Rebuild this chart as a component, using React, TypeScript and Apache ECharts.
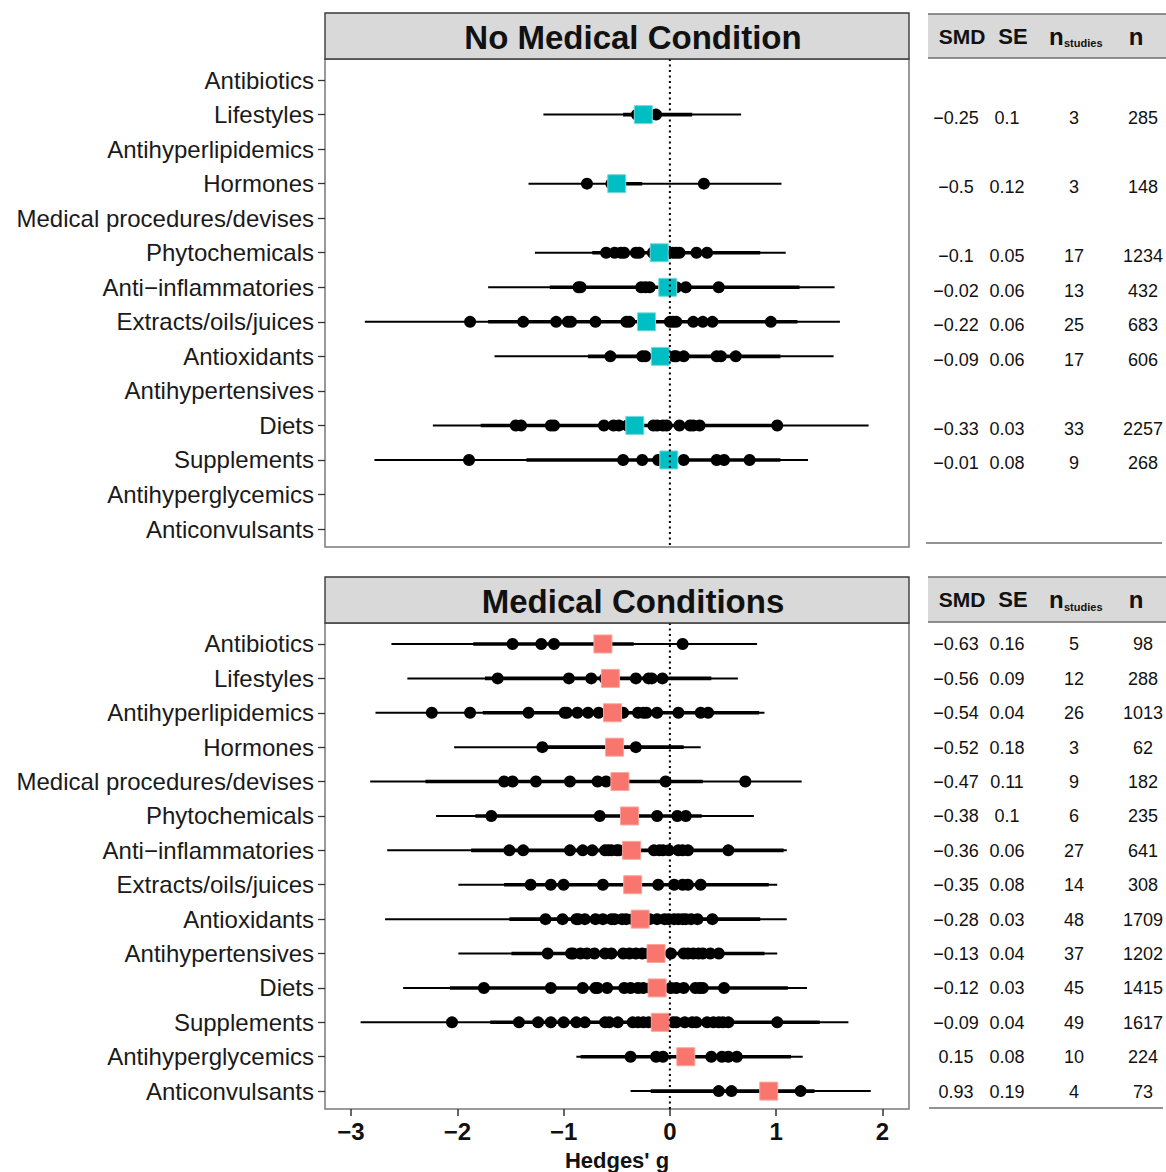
import React, { useEffect, useRef } from "react";
import * as echarts from "echarts";

const FONT = "Liberation Sans, Arial, Helvetica, sans-serif";

const categories = [
  "Antibiotics",
  "Lifestyles",
  "Antihyperlipidemics",
  "Hormones",
  "Medical procedures/devises",
  "Phytochemicals",
  "Anti\u2212inflammatories",
  "Extracts/oils/juices",
  "Antioxidants",
  "Antihypertensives",
  "Diets",
  "Supplements",
  "Antihyperglycemics",
  "Anticonvulsants",
];

const xTicks = [-3, -2, -1, 0, 1, 2];

// ---- No Medical Condition ----
const noMedSMD = [null, -0.25, null, -0.5, null, -0.1, -0.02, -0.22, -0.09, null, -0.33, -0.01, null, null];
const noMedSE = [null, 0.1, null, 0.12, null, 0.05, 0.06, 0.06, 0.06, null, 0.03, 0.08, null, null];
const noMedNStudies = [null, 3, null, 3, null, 17, 13, 25, 17, null, 33, 9, null, null];
const noMedN = [null, 285, null, 148, null, 1234, 432, 683, 606, null, 2257, 268, null, null];
const noMedStudies: number[][] = [
  [],
  [-0.31, -0.27, -0.13],
  [],
  [-0.78, -0.55, 0.32],
  [],
  [-0.6, -0.52, -0.46, -0.43, -0.32, -0.29, -0.16, -0.12, -0.06, 0.03, 0.06, 0.09, 0.25, 0.35],
  [-0.86, -0.84, -0.27, -0.23, -0.19, -0.05, 0.04, 0.06, 0.15, 0.46],
  [-1.88, -1.38, -1.07, -0.96, -0.93, -0.7, -0.41, -0.38, -0.25, 0.0, 0.03, 0.06, 0.22, 0.31, 0.4, 0.95],
  [-0.56, -0.26, -0.23, -0.12, 0.04, 0.06, 0.13, 0.44, 0.48, 0.62],
  [],
  [-1.45, -1.4, -1.12, -1.09, -0.62, -0.53, -0.48, -0.4, -0.155, -0.12, -0.065, -0.03, 0.09, 0.19, 0.22, 0.28, 1.01],
  [-1.89, -0.44, -0.26, -0.11, 0.13, 0.44, 0.51, 0.75],
  [],
  [],
];
const noMedOuterCI: ([number, number] | null)[] = [
  null, [-1.19, 0.67], null, [-1.33, 1.05], null, [-1.27, 1.09], [-1.71, 1.55],
  [-2.87, 1.6], [-1.65, 1.54], null, [-2.23, 1.87], [-2.78, 1.3], null, null,
];
const noMedInnerCI: ([number, number] | null)[] = [
  null, [-0.44, 0.21], null, [-0.59, -0.26], null, [-0.73, 0.85], [-1.13, 1.22],
  [-1.71, 1.2], [-0.77, 1.04], null, [-1.78, 1.0], [-1.35, 1.04], null, null,
];

// ---- Medical Conditions ----
const medSMD = [-0.63, -0.56, -0.54, -0.52, -0.47, -0.38, -0.36, -0.35, -0.28, -0.13, -0.12, -0.09, 0.15, 0.93];
const medSE = [0.16, 0.09, 0.04, 0.18, 0.11, 0.1, 0.06, 0.08, 0.03, 0.04, 0.03, 0.04, 0.08, 0.19];
const medNStudies = [5, 12, 26, 3, 9, 6, 27, 14, 48, 37, 45, 49, 10, 4];
const medN = [98, 288, 1013, 62, 182, 235, 641, 308, 1709, 1202, 1415, 1617, 224, 73];
const medStudies: number[][] = [
  [-1.48, -1.21, -1.09, -0.66, 0.12],
  [-1.62, -0.95, -0.74, -0.61, -0.32, -0.2, -0.17, -0.07],
  [-2.24, -1.88, -1.33, -0.99, -0.97, -0.87, -0.77, -0.67, -0.51, -0.44, -0.3, -0.25, -0.22, -0.12, 0.08, 0.29, 0.36],
  [-1.2, -0.55, -0.32],
  [-1.56, -1.48, -1.26, -0.94, -0.68, -0.6, -0.04, 0.71],
  [-1.68, -0.66, -0.4, -0.12, 0.07, 0.15],
  [-1.51, -1.38, -0.94, -0.82, -0.73, -0.61, -0.58, -0.55, -0.5, -0.48, -0.42, -0.15, -0.1, -0.065, -0.01, 0.08, 0.12, 0.17, 0.55],
  [-1.31, -1.12, -1.0, -0.63, -0.11, 0.04, 0.12, 0.17, 0.29],
  [-1.17, -1.01, -0.88, -0.86, -0.8, -0.7, -0.63, -0.55, -0.52, -0.45, -0.41, -0.35, -0.3, -0.19, -0.12, -0.05, -0.01, 0.04, 0.08, 0.12, 0.15, 0.2, 0.26, 0.4],
  [-1.15, -0.93, -0.91, -0.84, -0.78, -0.71, -0.61, -0.55, -0.44, -0.38, -0.32, -0.26, -0.2, 0.01, 0.13, 0.17, 0.22, 0.27, 0.31, 0.38, 0.46],
  [-1.75, -1.12, -0.82, -0.7, -0.68, -0.59, -0.43, -0.37, -0.3, -0.25, -0.18, 0.01, 0.06, 0.13, 0.24, 0.28, 0.31, 0.51],
  [-2.05, -1.42, -1.24, -1.12, -1.0, -0.88, -0.8, -0.61, -0.57, -0.49, -0.35, -0.3, -0.25, -0.2, 0.03, 0.06, 0.14, 0.21, 0.25, 0.35, 0.41, 0.46, 0.5, 0.55, 1.01],
  [-0.37, -0.13, -0.065, 0.39, 0.49, 0.55, 0.63],
  [0.46, 0.58, 1.23],
];
const medOuterCI: ([number, number] | null)[] = [
  [-2.62, 0.82], [-2.47, 0.64], [-2.77, 0.89], [-2.03, 0.29], [-2.82, 1.24], [-2.2, 0.79], [-2.66, 1.1],
  [-1.99, 1.01], [-2.68, 1.1], [-1.99, 1.01], [-2.51, 1.29], [-2.91, 1.68], [-0.88, 1.25], [-0.37, 1.89],
];
const medInnerCI: ([number, number] | null)[] = [
  [-1.85, -0.34], [-1.74, 0.39], [-1.76, 0.84], [-1.24, 0.13], [-2.3, 0.31], [-1.83, 0.3], [-1.87, 1.07],
  [-1.56, 0.93], [-1.51, 0.85], [-1.49, 0.89], [-2.07, 1.11], [-1.69, 1.41], [-0.84, 1.14], [-0.18, 1.36],
];

const X_MIN = -3.245;
const X_MAX = 2.25;
const Y_MIN = 0.39;
const Y_MAX = 14.52;

const fmt = (v: number) => String(v).replace("-", "\u2212");

function ciRender(width: number) {
  return (params: any, api: any) => {
    const p1 = api.coord([api.value(0), api.value(2)]);
    const p2 = api.coord([api.value(1), api.value(2)]);
    return {
      type: "line",
      shape: { x1: p1[0], y1: p1[1], x2: p2[0], y2: p2[1] },
      style: { stroke: "#000", lineWidth: width },
    };
  };
}

function zeroRender(params: any, api: any) {
  const x = api.coord([api.value(0), api.value(1)])[0];
  const cs = params.coordSys;
  return {
    type: "line",
    shape: { x1: x, y1: cs.y, x2: x, y2: cs.y + cs.height },
    style: { stroke: "#000", lineWidth: 2, lineDash: [2, 3.5] },
  };
}

function panelSeries(
  gi: number,
  smd: (number | null)[],
  studies: number[][],
  outer: ([number, number] | null)[],
  inner: ([number, number] | null)[],
  color: string,
  border: string
) {
  const toSeg = (arr: ([number, number] | null)[]) =>
    arr
      .map((r, i) => (r ? [r[0], r[1], i + 1] : null))
      .filter((d) => d !== null);
  const pts: number[][] = [];
  studies.forEach((list, i) => list.forEach((v) => pts.push([v, i + 1])));
  const summary = smd
    .map((v, i) => (v === null ? null : [v, i + 1]))
    .filter((d) => d !== null);
  return [
    {
      type: "custom",
      xAxisIndex: gi,
      yAxisIndex: gi,
      renderItem: ciRender(2),
      data: toSeg(outer),
      encode: { x: [0, 1], y: 2 },
      z: 1,
      silent: true,
    },
    {
      type: "custom",
      xAxisIndex: gi,
      yAxisIndex: gi,
      renderItem: ciRender(3.6),
      data: toSeg(inner),
      encode: { x: [0, 1], y: 2 },
      z: 2,
      silent: true,
    },
    {
      type: "scatter",
      xAxisIndex: gi,
      yAxisIndex: gi,
      data: pts,
      symbol: "circle",
      symbolSize: 12,
      itemStyle: { color: "#000", opacity: 1 },
      z: 3,
      silent: true,
    },
    {
      type: "scatter",
      xAxisIndex: gi,
      yAxisIndex: gi,
      data: summary,
      symbol: "rect",
      symbolSize: 18,
      itemStyle: { color, borderColor: border, borderWidth: 1, opacity: 1 },
      z: 4,
      silent: true,
    },
    {
      type: "custom",
      xAxisIndex: gi,
      yAxisIndex: gi,
      renderItem: zeroRender,
      data: [[0, 1]],
      encode: { x: 0, y: 1 },
      z: 5,
      silent: true,
    },
  ];
}

const rowValues = categories.map((_, i) => i + 1);

function yAxisOpt(gi: number) {
  return {
    gridIndex: gi,
    type: "value",
    inverse: true,
    min: Y_MIN,
    max: Y_MAX,
    position: "left",
    splitLine: { show: false },
    axisLine: { show: false, onZero: false },
    axisTick: {
      show: true,
      length: 7,
      customValues: rowValues,
      lineStyle: { color: "#333", width: 1.3 },
    },
    axisLabel: {
      customValues: rowValues,
      formatter: (v: number) => categories[Math.round(v) - 1] || "",
      fontSize: 24,
      color: "#1a1a1a",
      margin: 11,
      fontFamily: FONT,
    },
  };
}

export default function App() {
  const ref = useRef<HTMLDivElement>(null);
  useEffect(() => {
    document.body.style.margin = "0";
    const chart = echarts.init(ref.current!, null, { renderer: "svg" });

    const option: any = {
      animation: false,
      backgroundColor: "#fff",
      textStyle: { fontFamily: FONT },
      grid: [
        { left: 325, top: 59, width: 584, height: 488, show: true, borderColor: "#7a7a7a", borderWidth: 1.5, backgroundColor: "#fff" },
        { left: 325, top: 623, width: 584, height: 486, show: true, borderColor: "#7a7a7a", borderWidth: 1.5, backgroundColor: "#fff" },
      ],
      xAxis: [
        { gridIndex: 0, type: "value", min: X_MIN, max: X_MAX, show: false, splitLine: { show: false } },
        {
          gridIndex: 1,
          type: "value",
          min: X_MIN,
          max: X_MAX,
          position: "bottom",
          splitLine: { show: false },
          axisLine: { show: false, onZero: false },
          axisTick: { show: true, length: 7, customValues: xTicks, lineStyle: { color: "#333", width: 1.5 } },
          axisLabel: {
            customValues: xTicks,
            formatter: (v: number) => fmt(v),
            fontSize: 24,
            fontWeight: "bold",
            color: "#111",
            margin: 10,
            fontFamily: FONT,
          },
          name: "Hedges' g",
          nameLocation: "middle",
          nameGap: 40,
          nameTextStyle: { fontSize: 22, fontWeight: "bold", color: "#111", fontFamily: FONT },
        },
      ],
      yAxis: [yAxisOpt(0), yAxisOpt(1)],
      series: [
        ...panelSeries(0, noMedSMD, noMedStudies, noMedOuterCI, noMedInnerCI, "#00BFC4", "#7ad9db"),
        ...panelSeries(1, medSMD, medStudies, medOuterCI, medInnerCI, "#F8766D", "#fba59f"),
      ],
    };
    chart.setOption(option);

    const colX = [956, 1007, 1074, 1143];
    const graphics: any[] = [];
    const txt = (text: string, x: number, y: number, size: number, weight: string, align = "center") => ({
      type: "text",
      silent: true,
      z: 10,
      style: {
        text,
        x,
        y,
        fill: "#111",
        fontSize: size,
        fontWeight: weight,
        fontFamily: FONT,
        align,
        verticalAlign: "middle",
        textAlign: align,
        textVerticalAlign: "middle",
      },
    });

    // Strip headers
    const strips = [
      { y: 13, h: 46, title: "No Medical Condition" },
      { y: 577, h: 46, title: "Medical Conditions" },
    ];
    strips.forEach((s) => {
      graphics.push({
        type: "rect",
        silent: true,
        z: 9,
        shape: { x: 325, y: s.y, width: 584, height: s.h },
        style: { fill: "#d9d9d9", stroke: "#3a3a3a", lineWidth: 1.4 },
      });
      graphics.push(txt(s.title, 633, s.y + s.h / 2 + 1, 33, "bold"));
    });

    // Table headers
    const heads = [
      { y: 14, h: 44, bottomLineY: 543, x1: 926, x2: 1162 },
      { y: 577, h: 45, bottomLineY: 1108, x1: 929, x2: 1163 },
    ];
    heads.forEach((hd) => {
      graphics.push({
        type: "rect",
        silent: true,
        z: 9,
        shape: { x: 928, y: hd.y, width: 240, height: hd.h },
        style: { fill: "#d9d9d9" },
      });
      graphics.push({
        type: "line",
        silent: true,
        z: 9,
        shape: { x1: 928, y1: hd.y, x2: 1166, y2: hd.y },
        style: { stroke: "#6e6e6e", lineWidth: 1.5 },
      });
      graphics.push({
        type: "line",
        silent: true,
        z: 9,
        shape: { x1: 928, y1: hd.y + hd.h, x2: 1166, y2: hd.y + hd.h },
        style: { stroke: "#6e6e6e", lineWidth: 1.5 },
      });
      graphics.push({
        type: "line",
        silent: true,
        z: 9,
        shape: { x1: hd.x1, y1: hd.bottomLineY, x2: hd.x2, y2: hd.bottomLineY },
        style: { stroke: "#6e6e6e", lineWidth: 1.5 },
      });
      const cy = hd.y + hd.h / 2;
      graphics.push(txt("SMD", 962, cy, 21, "bold"));
      graphics.push(txt("SE", 1013, cy, 22, "bold"));
      graphics.push(txt("n", 1049, cy, 24, "bold", "left"));
      graphics.push(txt("studies", 1064, cy + 7, 11, "bold", "left"));
      graphics.push(txt("n", 1136, cy, 24, "bold"));
    });

    // Table values
    const tables = [
      { gi: 0, off: 3.5, cols: [noMedSMD, noMedSE, noMedNStudies, noMedN] },
      { gi: 1, off: 0.5, cols: [medSMD, medSE, medNStudies, medN] },
    ];
    tables.forEach((t) => {
      categories.forEach((_, i) => {
        if (t.cols[0][i] === null) return;
        const p = chart.convertToPixel({ gridIndex: t.gi }, [0, i + 1]) as number[];
        t.cols.forEach((col, c) => {
          const v = col[i] as number;
          graphics.push(txt(fmt(v), colX[c], p[1] + t.off, 18, "normal"));
        });
      });
    });

    chart.setOption({ graphic: graphics });

    return () => chart.dispose();
  }, []);
  return <div ref={ref} style={{ width: 1166, height: 1172 }} />;
}
